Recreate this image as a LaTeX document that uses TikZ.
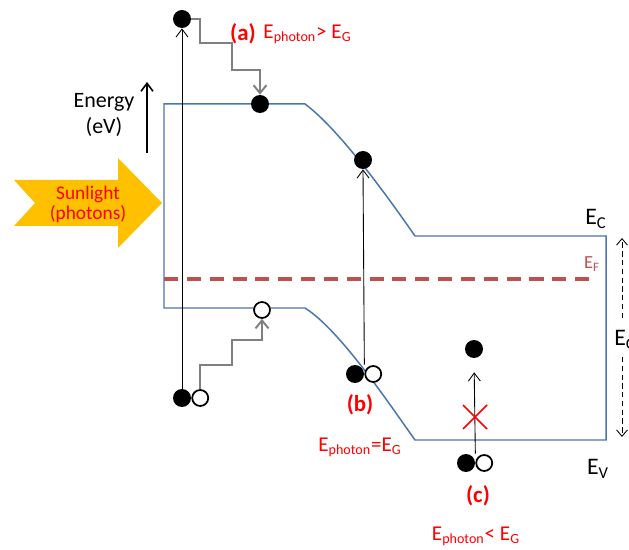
\documentclass[tikz,border=0pt]{standalone}
\usepackage{fontspec,tikz}
\setmainfont{Carlito}
\usetikzlibrary{positioning,arrows.meta}
\definecolor{bandblue}{HTML}{4A76AD}
\definecolor{fermired}{HTML}{C0504D}
\definecolor{sunyellow}{HTML}{FFC000}
\definecolor{labelred}{HTML}{FF0000}
\definecolor{stepgrey}{HTML}{808080}

\begin{document}
\begin{tikzpicture}[x=0.02cm,y=-0.02cm,font=\fontsize{12}{13}\selectfont,electron/.style={circle,fill=black,minimum size=.36cm,inner sep=0pt},hole/.style={circle,draw=black,fill=white,line width=1pt,minimum size=.32cm,inner sep=0pt},tag/.style={text=labelred,font=\fontsize{13}{14}\selectfont\bfseries,inner sep=1pt},cond/.style={text=labelred,font=\fontsize{12}{13}\selectfont,inner sep=1pt},level/.style={font=\fontsize{13.5}{15}\selectfont,inner sep=0pt},photon/.style={-{Straight Barb[length=1.6mm,width=2.4mm]},line width=.5pt},thermal/.style={-{Straight Barb[length=1.6mm,width=2.6mm]},draw=stepgrey,line width=1.1pt},gapdash/.style={-{Straight Barb[length=1.3mm,width=2.2mm]},densely dashed,line width=.5pt}]
\useasboundingbox (0,0) rectangle (629,550);
% bands and Fermi level
\draw[draw=bandblue,line width=.85pt] (164,308) -- (164,104) -- (305,104) .. controls (340,130) and (390,200) .. (415,236) -- (606,236) -- (606,440) -- (415,440) .. controls (390,405) and (340,330) .. (305,308) -- cycle;
\coordinate (fleft) at (164,279);
\coordinate (fright) at (591,279);
\draw[fermired,line width=2.2pt,dash pattern=on 8pt off 5pt] (fleft) -- (fright);
\node[text=fermired,font=\fontsize{10.5}{12}\selectfont,inner sep=0pt] (efl) at (592,264) {E\textsubscript{F}};
% sunlight
\fill[sunyellow] (14,180) -- (118,180) -- (118,158) -- (162,203) -- (118,248) -- (118,226) -- (14,226) -- (35,203) -- cycle;
\node[text=labelred,font=\fontsize{11}{11.5}\selectfont,align=center,inner sep=0pt] (sun) at (88,204) {Sunlight\\(photons)};
\node[align=center,inner sep=0pt,font=\fontsize{12.5}{14.7}\selectfont] (energy) at (104,115) {Energy\\(eV)};
\coordinate (ebot) at (147,153);
\coordinate (etop) at (147,82);
\draw[photon,line width=.9pt] (ebot) -- (etop);
% carriers
\node[electron] (ea) at (182,19) {};
\node[electron] (ecb) at (260,104) {};
\node[hole] (hvb) at (262,310) {};
\node[electron] (eb) at (363,160) {};
\node[electron] (ec) at (474,349) {};
\foreach \n/\x/\y in {a/182/398,b/355/374,c/466/463}{\node[electron] (p\n) at (\x,\y) {};\node[hole,right=0pt of p\n] (h\n) {};}
\draw[photon] (pa.north) -- (ea.south);
\draw[photon] (pb.east |- pb.north) -- (eb.south);
\draw[photon,shorten >=.28cm] (pc.east |- pc.north) -- (ec.south);
\draw[thermal] (ea.east) -| (200,43) -| (232,70) -| (ecb.north);
\draw[thermal] (ha.north) |- (232,365) |- (262,340) -- (hvb.south);
\draw[labelred,line width=1pt] (463,405) -- (487,429) (463,429) -- (487,405);
% labels
\node[tag] (taga) at (243,34) {(a)};
\node[cond,right=2pt of taga] (conda) {E\textsubscript{photon}> E\textsubscript{G}};
\node[tag] (tagb) at (360,405) {(b)};
\node[cond] (condb) at (360,447) {E\textsubscript{photon}=E\textsubscript{G}};
\node[tag] (tagc) at (478,496) {(c)};
\node[cond] (condc) at (476,536) {E\textsubscript{photon}< E\textsubscript{G}};
\node[level] (ecl) at (596,219) {E\textsubscript{C}};
\node[level] (evl) at (598,469) {E\textsubscript{V}};
\node[level,anchor=west] (egl) at (614,340) {E\textsubscript{G}};
\coordinate (gtop) at (622,238);
\coordinate (gbot) at (622,437);
\coordinate (gup) at (622,318);
\coordinate (gdown) at (622,357);
\draw[gapdash] (gup) -- (gtop);
\draw[gapdash] (gdown) -- (gbot);
\end{tikzpicture}
\end{document}
